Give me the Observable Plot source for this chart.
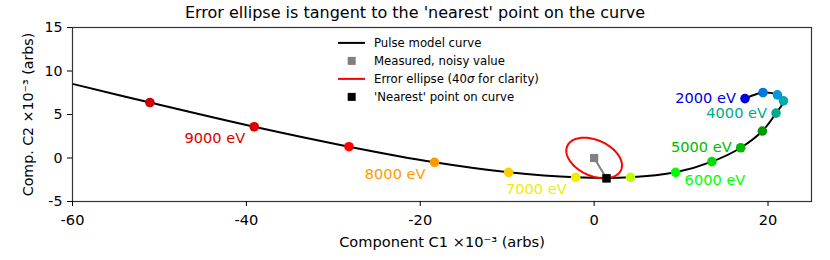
<!DOCTYPE html>
<html><head><meta charset="utf-8">
<script src="https://cdn.jsdelivr.net/npm/d3@7"></script>
<script src="https://cdn.jsdelivr.net/npm/@observablehq/plot@0.6"></script>
<style>
body{margin:0;background:#fff;font-family:"DejaVu Sans",sans-serif;}
#wrap{position:relative;width:830px;height:260px;}
#title{position:absolute;left:0;top:2.5px;width:830px;text-align:center;font-size:16px;line-height:20px;color:#000;}
#legend{position:absolute;left:336px;top:34.4px;font-size:11.7px;color:#000;}
.row{display:flex;align-items:center;height:17.8px;white-space:nowrap;}
.row svg{width:30px;height:17.8px;margin-right:8px;flex:none;}
</style></head><body>
<div id="wrap"><div id="title"></div><div id="legend"></div></div>
<script>
// ---- data ----
const titleText = "Error ellipse is tangent to the 'nearest' point on the curve";
const xLabel = "Component C1 ×10⁻³ (arbs)";
const yLabel = "Comp. C2 ×10⁻³ (arbs)";
const xTicks = [-60, -40, -20, 0, 20];
const yTicks = [-5, 0, 5, 10, 15];
const energies = [2000, 2500, 3000, 3500, 4000, 4500, 5000, 5500, 6000, 6500, 7000, 7500, 8000, 8500, 9000, 9500];
const c1 = [17.35, 19.42, 21.08, 21.77, 20.92, 19.35, 16.86, 13.55, 9.37, 4.18, -2.12, -9.84, -18.36, -28.2, -39.1, -51.1];
const c2 = [6.83, 7.52, 7.26, 6.57, 5.16, 3.10, 1.18, -0.42, -1.65, -2.22, -2.22, -1.65, -0.50, 1.30, 3.59, 6.38];
const energyColors = ["#0000dd", "#0077dd", "#0099dd", "#00aaaa", "#00aa88", "#009900", "#00bb00", "#00dd00", "#00ff00", "#bbff00", "#eeee00", "#ffcc00", "#ff9900", "#ff0000", "#dd0000", "#cc0000"];
const curveLeftEnd = {c1: -60, c2: 8.52};
const measuredC1 = [0], measuredC2 = [0];
const nearestC1 = [1.42], nearestC2 = [-2.34];
// error ellipse (40 sigma) covariance: [sxx, sxy, syy]
const ellipseCov = [10.24, -2.69, 5.43];
const labelsLeft = [2000, 4000, 5000];
const labelsBelowLeft = [7000, 8000, 9000];
const labelsBelowRight = [6000];
const legendItems = ["Pulse model curve", "Measured, noisy value", "Error ellipse (40<i>σ</i> for clarity)", "'Nearest' point on curve"];

// ---- build tables ----
const points = energies.map((e, i) => ({energy: e, c1: c1[i], c2: c2[i]}));
const curve = [curveLeftEnd, ...points.slice().reverse()];
const measured = measuredC1.map((v, i) => ({c1: v, c2: measuredC2[i]}));
const nearest = nearestC1.map((v, i) => ({c1: v, c2: nearestC2[i]}));
const link = [measured[0], nearest[0]];
const [sxx, sxy, syy] = ellipseCov;
const l11 = Math.sqrt(sxx), l21 = sxy / l11, l22 = Math.sqrt(syy - l21 * l21);
const ellipse = d3.range(0, 361, 3).map(a => {
  const t = a * Math.PI / 180;
  return {c1: measured[0].c1 + l11 * Math.cos(t), c2: measured[0].c2 + l21 * Math.cos(t) + l22 * Math.sin(t)};
});
const lbl = d => `${d.energy} eV`;

const plot = Plot.plot({
  width: 830, height: 260,
  marginLeft: 72, marginRight: 19, marginTop: 27, marginBottom: 59,
  x: {domain: [-60, 25]},
  y: {domain: [-5, 15]},
  color: {type: "ordinal", domain: energies, range: energyColors},
  style: {fontFamily: "DejaVu Sans", fontSize: "13.9px", background: "white", color: "black"},
  marks: [
    Plot.line(curve, {x: "c1", y: "c2", curve: "catmull-rom", stroke: "black", strokeWidth: 2, clip: true}),
    Plot.line(ellipse, {x: "c1", y: "c2", stroke: "red", strokeWidth: 2}),
    Plot.line(link, {x: "c1", y: "c2", stroke: "gray", strokeWidth: 2}),
    Plot.dot(points, {x: "c1", y: "c2", r: 4.8, fill: "energy"}),
    Plot.dot(measured, {x: "c1", y: "c2", symbol: "square", r: 4.6, fill: "gray"}),
    Plot.dot(nearest, {x: "c1", y: "c2", symbol: "square", r: 4.8, fill: "black"}),
    Plot.text(points.filter(d => labelsLeft.includes(d.energy)), {x: "c1", y: "c2", text: lbl, fill: "energy", textAnchor: "end", dx: -9, dy: 0, fontSize: 14.6}),
    Plot.text(points.filter(d => labelsBelowLeft.includes(d.energy)), {x: "c1", y: "c2", text: lbl, fill: "energy", textAnchor: "end", dx: -9, dy: 12, fontSize: 14.6}),
    Plot.text(points.filter(d => labelsBelowRight.includes(d.energy)), {x: "c1", y: "c2", text: lbl, fill: "energy", textAnchor: "start", dx: 9, dy: 8, fontSize: 14.6}),
    Plot.frame({stroke: "#333", strokeWidth: 1.2}),
    Plot.axisX({ticks: xTicks, tickSize: 5, tickPadding: 8, tickFormat: d => String(d), label: xLabel, labelAnchor: "center", labelArrow: "none", labelOffset: 45, fontSize: 14.6}),
    Plot.axisY({ticks: yTicks, tickSize: 5, tickPadding: 5, tickFormat: d => String(d), label: yLabel, labelAnchor: "center", labelArrow: "none", labelOffset: 50, fontSize: 14.2})
  ]
});
document.getElementById("wrap").prepend(plot);
document.getElementById("title").textContent = titleText;

const swatches = [
  '<line x1="2" x2="29" y1="8.9" y2="8.9" stroke="black" stroke-width="2"/>',
  '<rect x="11.7" y="4.9" width="8" height="8" fill="gray"/>',
  '<line x1="2" x2="29" y1="8.9" y2="8.9" stroke="red" stroke-width="2"/>',
  '<rect x="11.7" y="4.9" width="8" height="8" fill="black"/>'
];
document.getElementById("legend").innerHTML = legendItems.map((t, i) =>
  `<div class="row"><svg viewBox="0 0 30 17.8">${swatches[i]}</svg><span>${t}</span></div>`).join("");
</script>
</body></html>
